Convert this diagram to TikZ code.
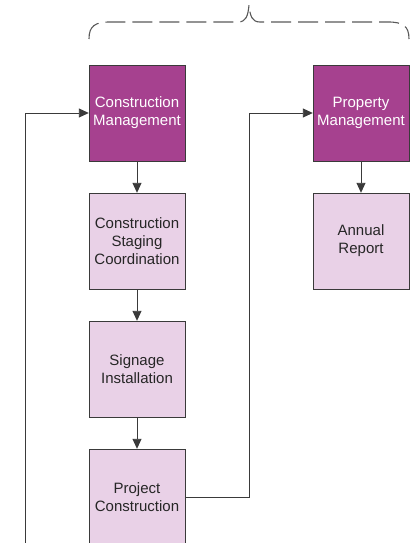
\documentclass[tikz,border=0pt]{standalone}
\usepackage{fontspec}
\setmainfont{Liberation Sans}
\usetikzlibrary{arrows.meta}

\definecolor{mgmtpurple}{HTML}{A6418F}
\definecolor{taskpink}{HTML}{E9D1E7}
\definecolor{edgegray}{HTML}{3A3A3A}

\begin{document}
\begin{tikzpicture}[x=1pt, y=-1pt,
  mgmt/.style={draw=edgegray, fill=mgmtpurple, text=white, minimum width=96pt, minimum height=96pt, align=center, inner sep=1pt, font=\fontsize{15}{18}\selectfont},
  task/.style={draw=edgegray, fill=taskpink, text=black!85, minimum width=96pt, minimum height=96pt, align=center, inner sep=1pt, font=\fontsize{15}{18}\selectfont},
  link/.style={draw=edgegray, line width=0.9pt, -{Triangle[length=10pt, width=9pt]}}]

\useasboundingbox (0,0) rectangle (413,543);
\clip (0,0) rectangle (413,543);

\draw(137,113) node[mgmt] (CM) {Construction\\Management};
\draw(361,113) node[mgmt] (PM) {Property\\Management};
\draw(137,241) node[task] (CSC) {Construction\\Staging\\Coordination};
\draw(361,241) node[task] (AR) {Annual\\Report};
\draw(137,369) node[task] (SI) {Signage\\Installation};
\draw(137,497) node[task] (PC) {Project\\Construction};
\coordinate (loopin) at (25,545);

\draw[link] (CM) -- (CSC);
\draw[link] (CSC) -- (SI);
\draw[link] (SI) -- (PC);
\draw[link] (PM) -- (AR);
\draw[link] (PC.east) -- (249,497) |- (PM.west);
\draw[link] (loopin) |- (CM.west);

% brace over both branches
\draw[gray!70!black, line width=1.1pt, dash pattern=on 20pt off 7pt]
  (89,39) .. controls (89,26) and (95,22) .. (110,22) -- (238,22)
  .. controls (246,22) and (248,16) .. (249,5)
  .. controls (250,16) and (252,22) .. (260,22) -- (388,22)
  .. controls (403,22) and (409,26) .. (409,39);

\end{tikzpicture}
\end{document}
